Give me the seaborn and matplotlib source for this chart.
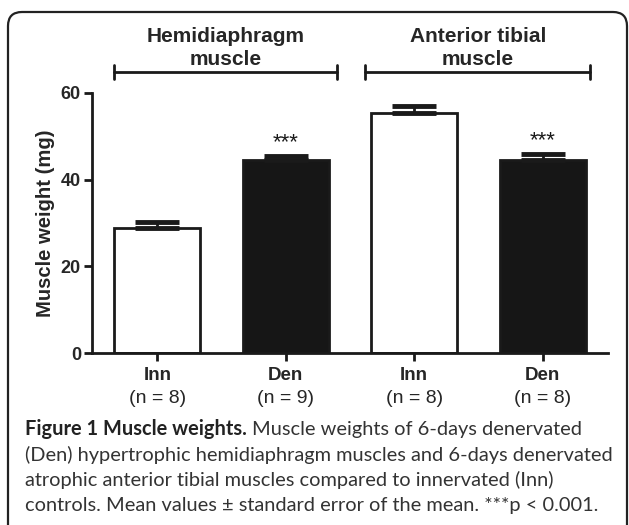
import pandas as pd
import matplotlib.pyplot as plt
import matplotlib.transforms as mtransforms
from matplotlib.patches import FancyBboxPatch
import seaborn as sns

# values (mg)
groups = ['Inn', 'Den', 'Inn', 'Den']
n_labels = ['(n = 8)', '(n = 9)', '(n = 8)', '(n = 8)']
means = [28.8, 44.6, 55.4, 44.5]
sem = [1.4, 0.8, 1.6, 1.5]
signif = ['', '***', '', '***']
muscles = ['Hemidiaphragm\nmuscle', 'Anterior tibial\nmuscle']

df = pd.DataFrame({'pos': range(4), 'group': groups, 'weight': means})

sns.set_style('ticks')
plt.rcParams['font.family'] = ['Liberation Sans', 'DejaVu Sans']

fig = plt.figure(figsize=(6.29, 5.25), dpi=100)
ax = fig.add_axes([0.1463, 0.3276, 0.8203, 0.4953])

sns.barplot(data=df, x='pos', y='weight', hue='pos',
            palette=['white', '#161616', 'white', '#161616'],
            edgecolor='#1a1a1a', linewidth=2, width=0.67,
            errorbar=None, legend=False, ax=ax)

# upper error bars only (GraphPad style)
ax.errorbar(df['pos'], df['weight'], yerr=[[0] * 4, sem], fmt='none',
            ecolor='#1a1a1a', elinewidth=2, capsize=16, capthick=3.5, zorder=5)

for i, s in enumerate(signif):
    if s:
        ax.text(i, means[i] + sem[i] + 0.6, s, ha='center', va='bottom',
                fontsize=16, color='#1a1a1a')

ax.set_xlim(-0.51, 3.51)
ax.set_ylim(0, 60)
ax.set_yticks([0, 20, 40, 60])
ax.set_yticklabels(['0', '20', '40', '60'], fontweight='bold', fontsize=13)
ax.set_xticks(range(4))
ax.set_xticklabels(groups, fontweight='bold', fontsize=13.5)
ax.tick_params(axis='both', length=6, width=2, color='#1a1a1a', pad=2)
ax.tick_params(axis='x', pad=4)
ax.set_xlabel('')
ax.set_ylabel('Muscle weight (mg)', fontweight='bold', fontsize=14.6, labelpad=4)
sns.despine(ax=ax)
for sp in ['left', 'bottom']:
    ax.spines[sp].set_linewidth(2)
    ax.spines[sp].set_color('#1a1a1a')

trans = mtransforms.blended_transform_factory(ax.transData, ax.transAxes)
for i, n in enumerate(n_labels):
    ax.text(i, -0.175, n, transform=trans, ha='center', va='center', fontsize=14)

# group brackets above the bars
for (x0, x1), name in zip([(-0.34, 1.40), (1.62, 3.37)], muscles):
    ax.plot([x0, x1], [64.8, 64.8], color='#1a1a1a', lw=2, clip_on=False)
    for xe in (x0, x1):
        ax.plot([xe, xe], [63.2, 66.4], color='#1a1a1a', lw=2, clip_on=False)
    ax.text((x0 + x1) / 2, 70.4, name, ha='center', va='center', fontweight='bold',
            fontsize=15, linespacing=1.22, clip_on=False)

# rounded frame around figure and caption
frame = FancyBboxPatch((0.08, -0.5), 6.19, 5.63,
                       boxstyle='round,pad=0,rounding_size=0.14',
                       transform=fig.dpi_scale_trans, facecolor='none',
                       edgecolor='#222222', lw=1.6)
fig.patches.append(frame)

# caption
cap_font = ['Lato', 'DejaVu Sans']
cap_size = 14.4
x0 = 25 / 629
line_y = [429, 455, 480, 505]
bold = fig.text(x0, 1 - line_y[0] / 525, 'Figure 1 Muscle weights.', family=cap_font,
                fontweight='bold', fontsize=cap_size, color='#222222', va='center')
fig.canvas.draw()
bb = bold.get_window_extent().transformed(fig.transFigure.inverted())
fig.text(bb.x1 + 0.008, 1 - line_y[0] / 525, 'Muscle weights of 6-days denervated',
         family=cap_font, fontsize=cap_size, color='#333333', va='center')
rest = ['(Den) hypertrophic hemidiaphragm muscles and 6-days denervated',
        'atrophic anterior tibial muscles compared to innervated (Inn)',
        'controls. Mean values \u00b1 standard error of the mean. ***p < 0.001.']
for y, line in zip(line_y[1:], rest):
    fig.text(x0, 1 - y / 525, line, family=cap_font, fontsize=cap_size,
             color='#333333', va='center')

fig.savefig('out.png', dpi=100)
